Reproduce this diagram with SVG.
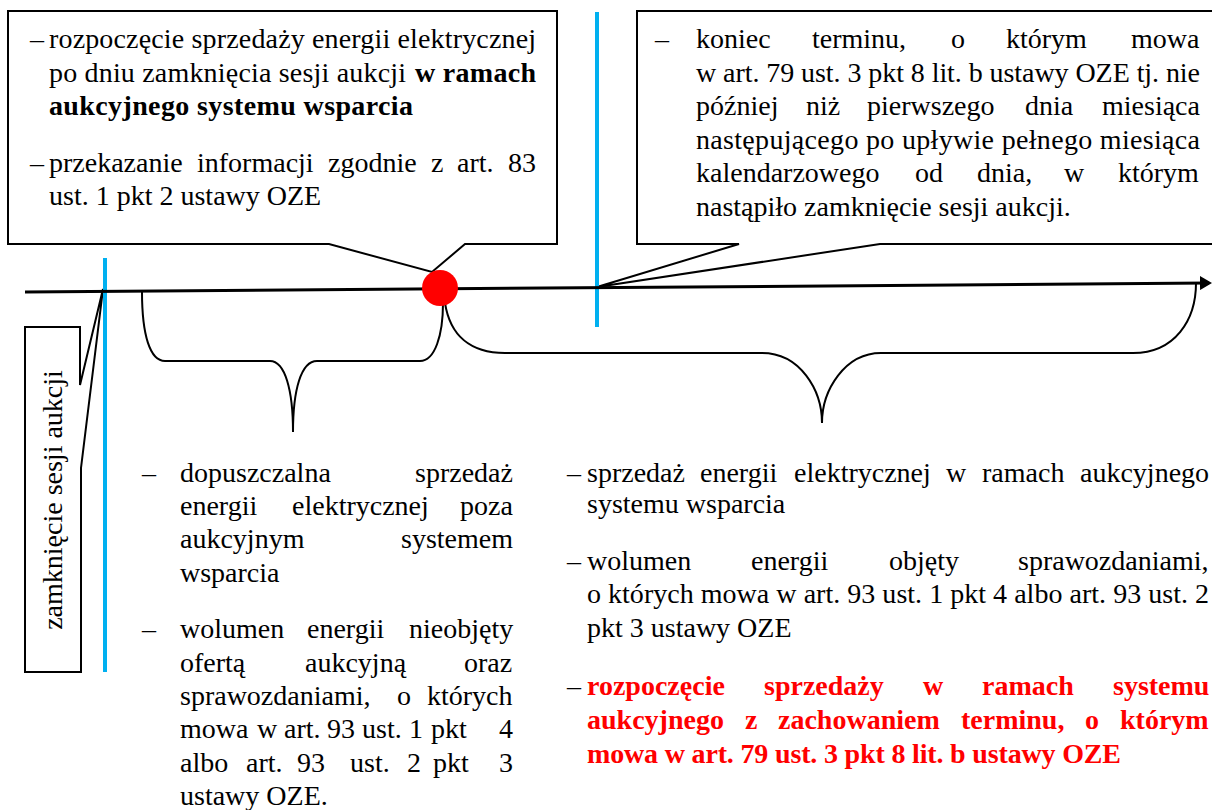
<svg xmlns="http://www.w3.org/2000/svg" width="1212" height="810" viewBox="0 0 1212 810">
<style>
.t{font-family:"Liberation Serif","Times New Roman",serif;font-size:28px;fill:#000}
.b{font-weight:bold}
.r{font-weight:bold;fill:#FF0000}
.box{fill:#fff;stroke:#000;stroke-width:2}
.blue{stroke:#00B0F0;stroke-width:4;fill:none}
.br{fill:none;stroke:#000;stroke-width:2}
</style>
<defs>
<marker id="arr" markerWidth="12" markerHeight="14" refX="9" refY="7" orient="auto" markerUnits="userSpaceOnUse" viewBox="0 0 12 14">
<path d="M0,0 L12,7 L0,14 Z" fill="#000"/>
</marker>
</defs>

<g id="callout-top-left">
<path class="box" d="M8,11 H557 V244 H465 L432,272 L329,244 H8 Z"/>
<text class="t" x="30" y="48">–</text>
<text class="t" x="49" y="48" textLength="487" lengthAdjust="spacing">rozpoczęcie sprzedaży energii elektrycznej</text>
<text class="t" x="49" y="82" textLength="357" lengthAdjust="spacing">po dniu zamknięcia sesji aukcji</text>
<text class="t b" x="415" y="82" textLength="121" lengthAdjust="spacing">w ramach</text>
<text class="t b" x="49" y="115" textLength="364" lengthAdjust="spacing">aukcyjnego systemu wsparcia</text>
<text class="t" x="30" y="172">–</text>
<text class="t" y="172"><tspan x="49">przekazanie</tspan><tspan x="197">informacji</tspan><tspan x="328">zgodnie</tspan><tspan x="431">z</tspan><tspan x="457">art.</tspan><tspan x="508">83</tspan></text>
<text class="t" x="49" y="205">ust. 1 pkt 2 ustawy OZE</text>
</g>

<g id="callout-top-right">
<path class="box" d="M637,11 H1224 V244 H880 L597,287 L739,244 H637 Z"/>
<text class="t" x="655" y="48">–</text>
<text class="t" y="48"><tspan x="696">koniec</tspan><tspan x="812">terminu,</tspan><tspan x="951">o</tspan><tspan x="1006">którym</tspan><tspan x="1131">mowa</tspan></text>
<text class="t" x="696" y="82" textLength="504" lengthAdjust="spacing">w art. 79 ust. 3 pkt 8 lit. b ustawy OZE tj. nie</text>
<text class="t" y="115"><tspan x="696">później</tspan><tspan x="806">niż</tspan><tspan x="867">pierwszego</tspan><tspan x="1025">dnia</tspan><tspan x="1102">miesiąca</tspan></text>
<text class="t" x="696" y="149" textLength="504" lengthAdjust="spacing">następującego po upływie pełnego miesiąca</text>
<text class="t" y="182"><tspan x="696">kalendarzowego</tspan><tspan x="915">od</tspan><tspan x="977">dnia,</tspan><tspan x="1064">w</tspan><tspan x="1118">którym</tspan></text>
<text class="t" x="696" y="216">nastąpiło zamknięcie sesji aukcji.</text>
</g>

<g id="callout-closing">
<path class="box" d="M25,327 H80 V385 L103,289 L81,468 V672 H25 Z"/>
<text class="t" transform="translate(62,500) rotate(-90)" x="0" y="0" text-anchor="middle">zamknięcie sesji aukcji</text>
</g>

<g id="markers">
<line class="blue" x1="105" y1="258" x2="105" y2="672"/>
<line class="blue" x1="597" y1="12" x2="597" y2="327"/>
</g>

<g id="connectors">
<line x1="25" y1="292" x2="1209" y2="283" stroke="#000" stroke-width="3" marker-end="url(#arr)"/>
<path class="br" d="M142,292 C142,335 150,361 165,361 H270 C285,361 293,390 293,432 C293,390 301,361 317,361 H420 C435,361 443,335 443,303"/>
<path class="br" d="M445,303 C450,335 470,353 505,353 H762 C800,353 822,390 822,423 C822,390 845,353 881,353 H1133 C1175,353 1196,320 1196,283"/>
</g>

<g id="event-dot">
<circle cx="440" cy="288" r="18" fill="#FF0000"/>
</g>

<g id="text-bottom-left">
<text class="t" x="142" y="482">–</text>
<text class="t" y="482"><tspan x="180">dopuszczalna</tspan><tspan x="415">sprzedaż</tspan></text>
<text class="t" y="515"><tspan x="180">energii</tspan><tspan x="292">elektrycznej</tspan><tspan x="460">poza</tspan></text>
<text class="t" y="548"><tspan x="180">aukcyjnym</tspan><tspan x="401">systemem</tspan></text>
<text class="t" x="180" y="582">wsparcia</text>
<text class="t" x="142" y="638">–</text>
<text class="t" y="638"><tspan x="180">wolumen</tspan><tspan x="307">energii</tspan><tspan x="409">nieobjęty</tspan></text>
<text class="t" y="672"><tspan x="180">ofertą</tspan><tspan x="305">aukcyjną</tspan><tspan x="464">oraz</tspan></text>
<text class="t" y="705"><tspan x="180">sprawozdaniami,</tspan><tspan x="397">o</tspan><tspan x="427">których</tspan></text>
<text class="t" y="738"><tspan x="180">mowa</tspan><tspan x="257">w</tspan><tspan x="284">art.</tspan><tspan x="327">93</tspan><tspan x="362">ust.</tspan><tspan x="409">1</tspan><tspan x="431">pkt</tspan><tspan x="499">4</tspan></text>
<text class="t" y="772"><tspan x="180">albo</tspan><tspan x="246">art.</tspan><tspan x="297">93</tspan><tspan x="350">ust.</tspan><tspan x="407">2</tspan><tspan x="433">pkt</tspan><tspan x="499">3</tspan></text>
<text class="t" x="180" y="805">ustawy OZE.</text>
</g>

<g id="text-bottom-right">
<text class="t" x="567" y="482">–</text>
<text class="t" y="482"><tspan x="587">sprzedaż</tspan><tspan x="700">energii</tspan><tspan x="794">elektrycznej</tspan><tspan x="946">w</tspan><tspan x="982">ramach</tspan><tspan x="1080">aukcyjnego</tspan></text>
<text class="t" x="587" y="513">systemu wsparcia</text>
<text class="t" x="567" y="570">–</text>
<text class="t" y="570"><tspan x="587">wolumen</tspan><tspan x="751">energii</tspan><tspan x="889">objęty</tspan><tspan x="1018">sprawozdaniami,</tspan></text>
<text class="t" x="587" y="603" textLength="622" lengthAdjust="spacing">o których mowa w art. 93 ust. 1 pkt 4 albo art. 93 ust. 2</text>
<text class="t" x="587" y="637">pkt 3 ustawy OZE</text>
<text class="t" x="567" y="695">–</text>
<text class="t r" y="695"><tspan x="587">rozpoczęcie</tspan><tspan x="764">sprzedaży</tspan><tspan x="923">w</tspan><tspan x="982">ramach</tspan><tspan x="1113">systemu</tspan></text>
<text class="t r" y="729"><tspan x="587">aukcyjnego</tspan><tspan x="745">z</tspan><tspan x="778">zachowaniem</tspan><tspan x="961">terminu,</tspan><tspan x="1085">o</tspan><tspan x="1120">którym</tspan></text>
<text class="t r" x="587" y="763" textLength="534" lengthAdjust="spacing">mowa w art. 79 ust. 3 pkt 8 lit. b ustawy OZE</text>
</g>
</svg>
